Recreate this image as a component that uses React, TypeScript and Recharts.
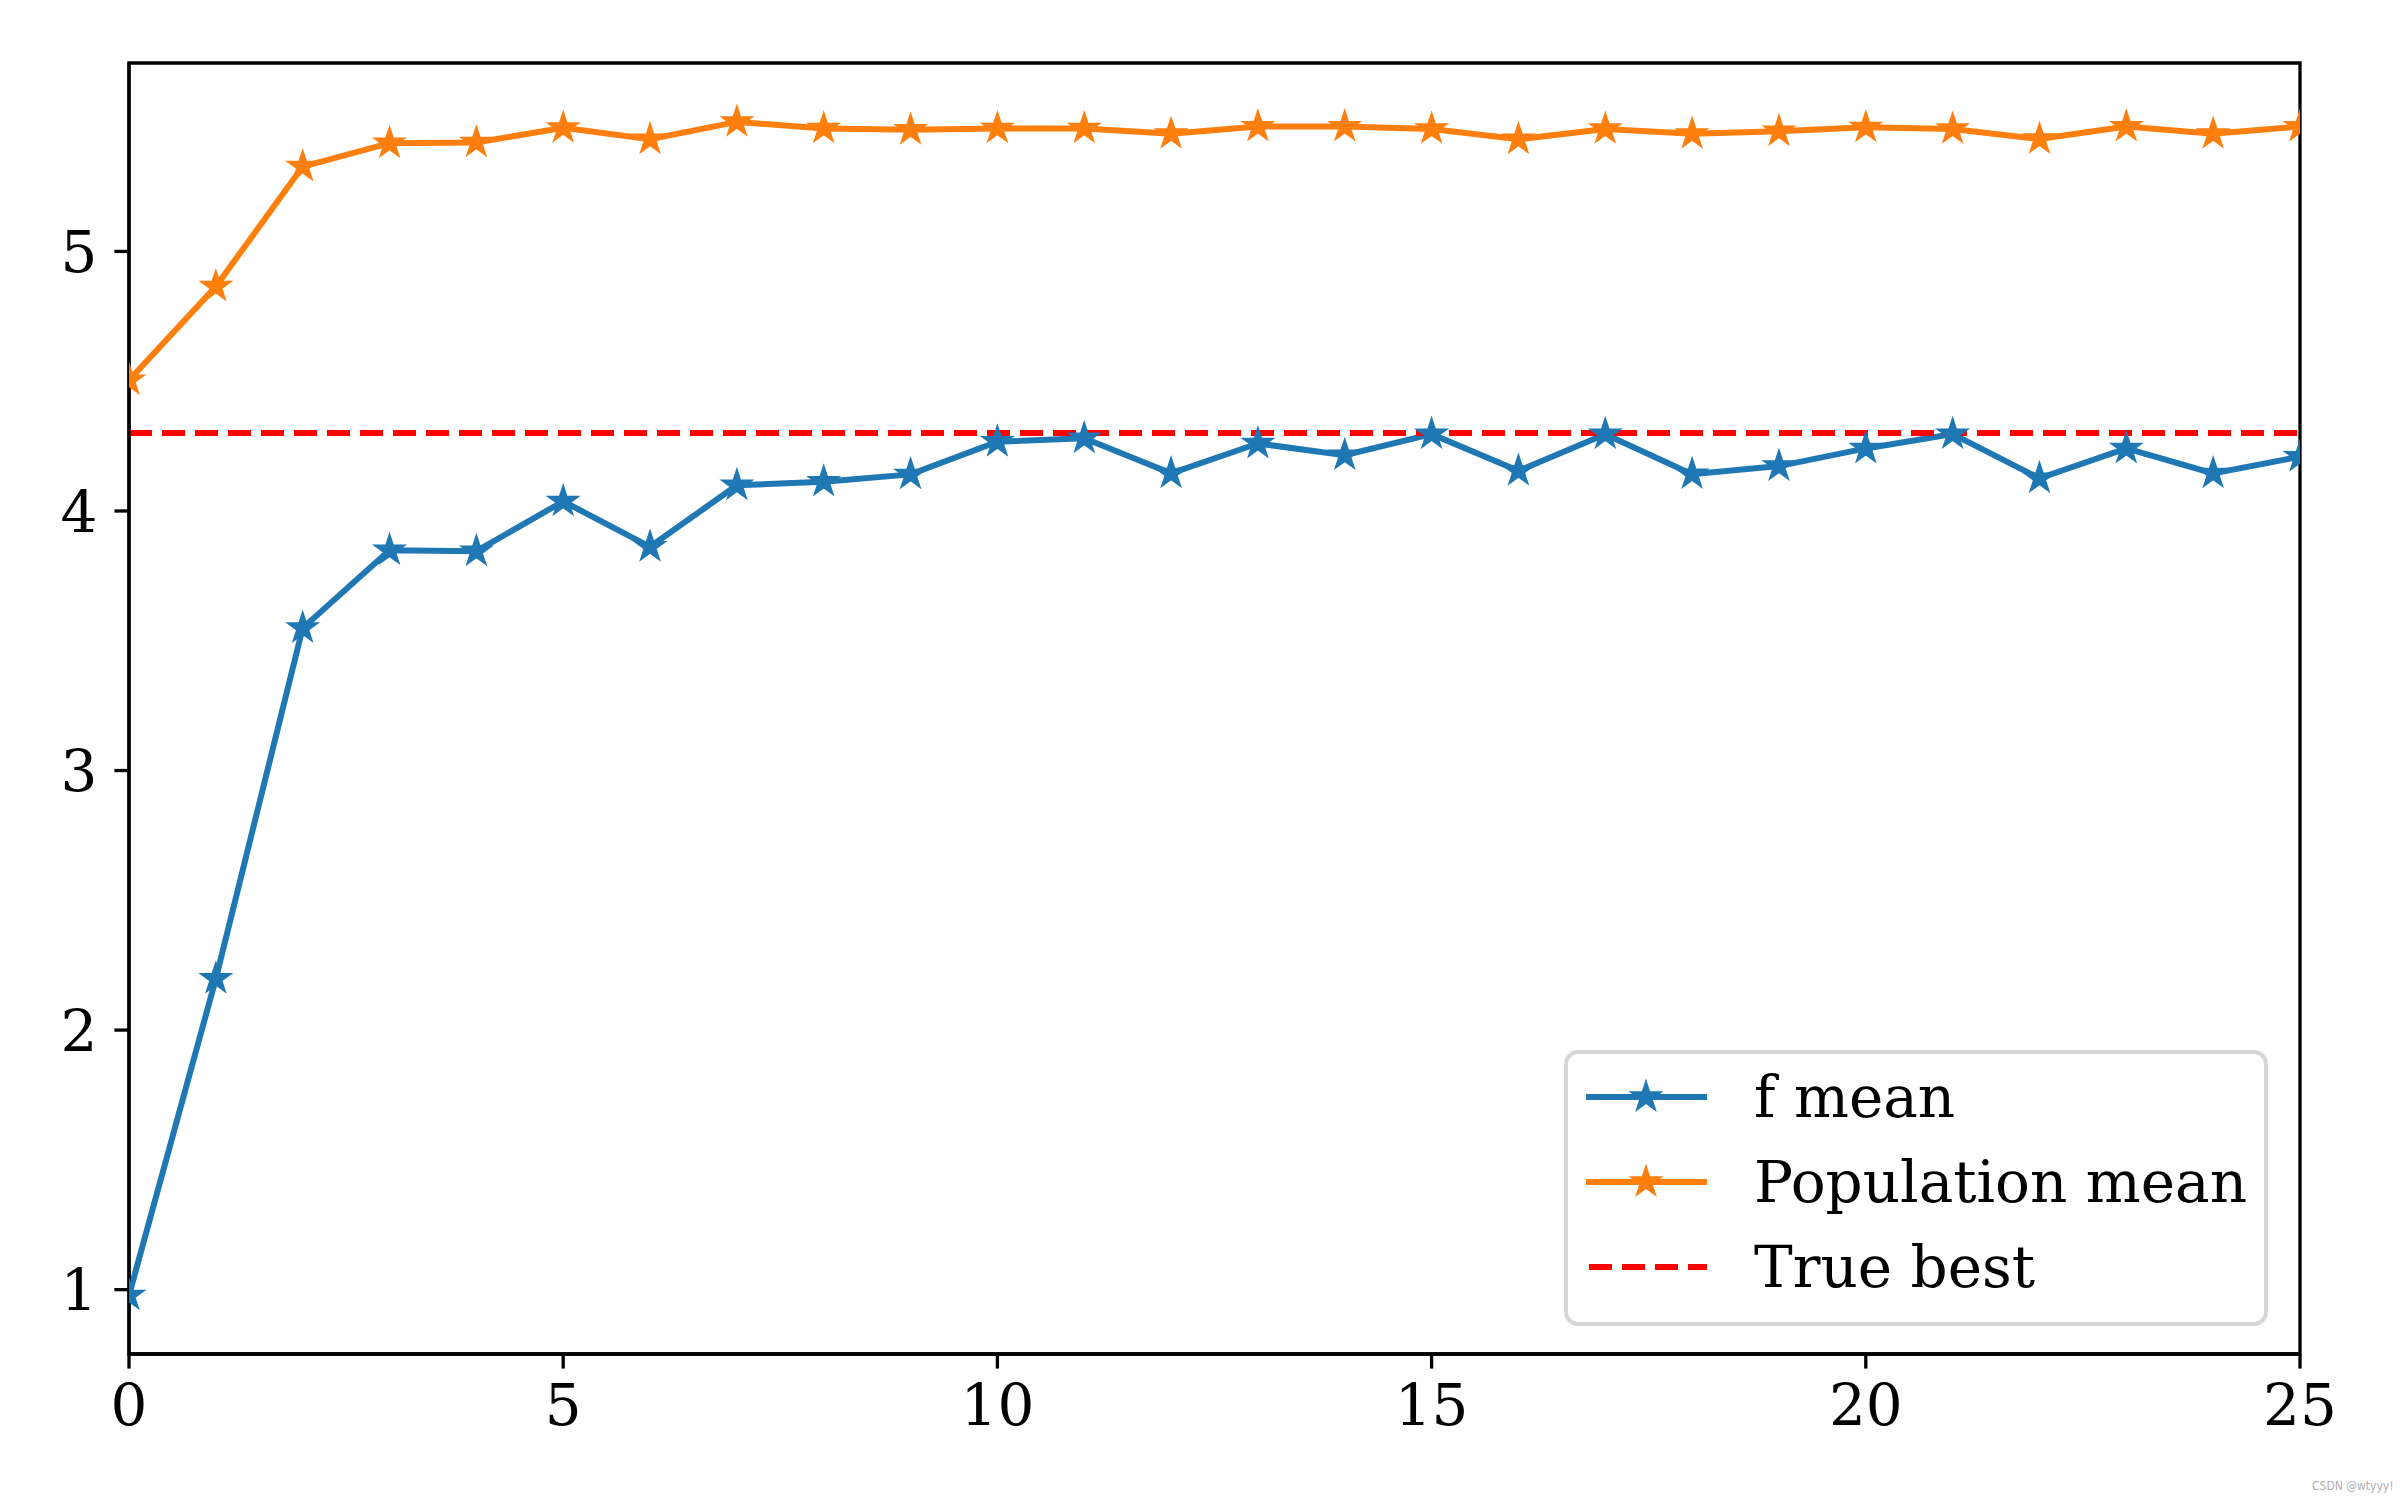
import React from 'react';
import {
  LineChart, Line, XAxis, YAxis, ReferenceLine, ReferenceArea,
} from 'recharts';

const generations = [0, 1, 2, 3, 4, 5, 6, 7, 8, 9, 10, 11, 12, 13, 14, 15, 16, 17, 18, 19, 20, 21, 22, 23, 24, 25];
const fMean = [
  0.978, 2.198, 3.549, 3.849, 3.845, 4.037, 3.862, 4.099, 4.113, 4.141,
  4.267, 4.280, 4.145, 4.260, 4.215, 4.296, 4.155, 4.296, 4.142, 4.173,
  4.241, 4.296, 4.126, 4.241, 4.145, 4.209,
];
const populationMean = [
  4.504, 4.865, 5.327, 5.417, 5.420, 5.476, 5.432, 5.499, 5.474, 5.469,
  5.474, 5.474, 5.453, 5.481, 5.481, 5.472, 5.432, 5.472, 5.453, 5.463,
  5.478, 5.472, 5.433, 5.481, 5.453, 5.481,
];
const trueBest = 4.3;
const xTicks = [0, 5, 10, 15, 20, 25];
const yTicks = [1, 2, 3, 4, 5];
const seriesNames = ['f mean', 'Population mean', 'True best'];

const BLUE = '#1f77b4';
const ORANGE = '#ff7f0e';
const RED = '#ff0000';
const FONT = '"DejaVu Serif", serif';
const DASH = '23 10';

const rows = generations.map((g, i) => ({ gen: g, f: fMean[i], pop: populationMean[i] }));

function starPoints(cx: number, cy: number, R: number) {
  const r = R * 0.381966;
  const pts: string[] = [];
  for (let k = 0; k < 10; k++) {
    const a = -Math.PI / 2 + (k * Math.PI) / 5;
    const rad = k % 2 === 0 ? R : r;
    pts.push(`${cx + rad * Math.cos(a)},${cy + rad * Math.sin(a)}`);
  }
  return pts.join(' ');
}

const makeDot = (color: string) => (props: any) => {
  const { cx, cy, index } = props;
  if (cx == null || cy == null) return <g key={`d-${index}`} />;
  return (
    <polygon
      key={`d-${color}-${index}`}
      points={starPoints(cx, cy, 12)}
      fill={color}
      stroke={color}
      strokeWidth={4}
    />
  );
};

// legend drawn as an overlay so it doesn't eat into the plot area
function LegendBox() {
  const items = [
    { name: seriesNames[0], color: BLUE, star: true, dash: undefined },
    { name: seriesNames[1], color: ORANGE, star: true, dash: undefined },
    { name: seriesNames[2], color: RED, star: false, dash: DASH },
  ];
  const rowY = [47, 132, 217];
  return (
    <svg width={704} height={276} style={{ position: 'absolute', left: 1564, top: 1050 }}>
      <rect x={2} y={2} width={700} height={272} rx={12} ry={12}
        fill="#fff" fillOpacity={0.8} stroke="#d6d6d6" strokeWidth={4} />
      {items.map((it, i) => (
        <g key={it.name}>
          <line x1={it.dash ? 25 : 22} x2={143} y1={rowY[i]} y2={rowY[i]} stroke={it.color}
            strokeWidth={6} strokeDasharray={it.dash} />
          {it.star && (
            <polygon points={starPoints(82, rowY[i], 12)} fill={it.color}
              stroke={it.color} strokeWidth={4} />
          )}
          <text x={190} y={rowY[i]} dy="0.35em" fontFamily={FONT} fontSize={58} fill="#000">
            {it.name}
          </text>
        </g>
      ))}
    </svg>
  );
}

export default function App() {
  const yMin = 0.752;
  const yMax = 5.726;
  return (
    <div style={{ position: 'absolute', left: 0, top: 0, width: 2400, height: 1500, background: '#fff' }}>
      <LineChart
        width={2400}
        height={1500}
        data={rows}
        margin={{ top: 63, right: 100, bottom: 46, left: 29 }}
      >
        <XAxis
          dataKey="gen"
          type="number"
          domain={[0, 25]}
          ticks={xTicks}
          height={100}
          allowDataOverflow
          axisLine={{ stroke: '#000', strokeWidth: 3.3 }}
          tickLine={{ stroke: '#000', strokeWidth: 3.3 }}
          tickSize={14.6}
          tickMargin={15}
          tick={{ fill: '#000', fontSize: 58, fontFamily: FONT }}
        />
        <YAxis
          type="number"
          domain={[yMin, yMax]}
          ticks={yTicks}
          width={100}
          allowDataOverflow
          axisLine={{ stroke: '#000', strokeWidth: 3.3 }}
          tickLine={{ stroke: '#000', strokeWidth: 3.3 }}
          tickSize={14.6}
          tickMargin={17}
          tick={{ fill: '#000', fontSize: 58, fontFamily: FONT }}
        />
        <ReferenceArea x1={0} x2={25} y1={yMin} y2={yMax} fill="none" stroke="#000" strokeWidth={3.3} />
        <Line
          dataKey="f"
          name={seriesNames[0]}
          stroke={BLUE}
          strokeWidth={6}
          dot={makeDot(BLUE)}
          activeDot={false}
          isAnimationActive={false}
        />
        <Line
          dataKey="pop"
          name={seriesNames[1]}
          stroke={ORANGE}
          strokeWidth={6}
          dot={makeDot(ORANGE)}
          activeDot={false}
          isAnimationActive={false}
        />
        <ReferenceLine y={trueBest} stroke={RED} strokeWidth={6} strokeDasharray={DASH} />
      </LineChart>
      <LegendBox />
      <span style={{ position: 'absolute', left: 2312, top: 1479, fontFamily: '"DejaVu Sans Condensed", sans-serif', fontSize: 12, color: '#b0b0b0' }}>
        CSDN @wtyyy!
      </span>
    </div>
  );
}
